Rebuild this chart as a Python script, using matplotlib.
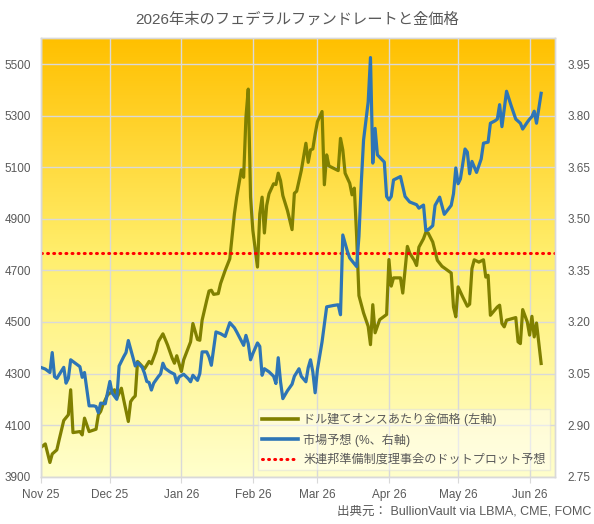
import numpy as np
import pandas as pd
import matplotlib
matplotlib.use("Agg")
import matplotlib.pyplot as plt
import matplotlib.dates as mdates
from matplotlib.colors import LinearSegmentedColormap
from matplotlib.lines import Line2D

plt.rcParams["font.family"] = ["Liberation Sans", "Noto Sans CJK JP"]

# gold price, USD per ounce (left axis)
gold_dates = [
    "2025-11-01", "2025-11-03", "2025-11-05", "2025-11-06", "2025-11-08", "2025-11-09",
    "2025-11-11", "2025-11-13", "2025-11-14", "2025-11-15", "2025-11-18", "2025-11-19",
    "2025-11-20", "2025-11-22", "2025-11-25", "2025-11-26", "2025-11-27", "2025-11-28",
    "2025-11-30", "2025-12-03", "2025-12-04", "2025-12-06", "2025-12-07", "2025-12-09",
    "2025-12-10", "2025-12-11", "2025-12-12", "2025-12-13", "2025-12-14", "2025-12-16",
    "2025-12-18", "2025-12-19", "2025-12-21", "2025-12-22", "2025-12-24", "2025-12-26",
    "2025-12-28", "2025-12-29", "2025-12-30", "2026-01-01", "2026-01-02", "2026-01-05",
    "2026-01-06", "2026-01-08", "2026-01-09", "2026-01-10", "2026-01-12", "2026-01-13",
    "2026-01-14", "2026-01-15", "2026-01-17", "2026-01-18", "2026-01-20", "2026-01-22",
    "2026-01-24", "2026-01-25", "2026-01-27", "2026-01-28", "2026-01-29", "2026-01-30",
    "2026-01-31", "2026-02-01", "2026-02-03", "2026-02-04", "2026-02-05", "2026-02-06",
    "2026-02-07", "2026-02-08", "2026-02-10", "2026-02-11", "2026-02-12", "2026-02-13",
    "2026-02-14", "2026-02-16", "2026-02-18", "2026-02-19", "2026-02-20", "2026-02-22",
    "2026-02-24", "2026-02-25", "2026-02-26", "2026-02-27", "2026-02-28", "2026-03-01",
    "2026-03-03", "2026-03-04", "2026-03-05", "2026-03-06", "2026-03-10", "2026-03-11",
    "2026-03-12", "2026-03-13", "2026-03-15", "2026-03-16", "2026-03-17", "2026-03-18",
    "2026-03-19", "2026-03-21", "2026-03-23", "2026-03-24", "2026-03-25", "2026-03-26",
    "2026-03-28", "2026-03-31", "2026-04-01", "2026-04-02", "2026-04-03", "2026-04-06",
    "2026-04-07", "2026-04-09", "2026-04-10", "2026-04-12", "2026-04-13", "2026-04-14",
    "2026-04-16", "2026-04-17", "2026-04-18", "2026-04-20", "2026-04-22", "2026-04-24",
    "2026-04-26", "2026-04-28", "2026-04-29", "2026-04-30", "2026-05-01", "2026-05-03",
    "2026-05-05", "2026-05-06", "2026-05-07", "2026-05-08", "2026-05-10", "2026-05-12",
    "2026-05-13", "2026-05-14", "2026-05-15", "2026-05-18", "2026-05-19", "2026-05-20",
    "2026-05-21", "2026-05-22", "2026-05-26", "2026-05-27", "2026-05-28", "2026-05-29",
    "2026-05-31", "2026-06-01", "2026-06-02", "2026-06-03", "2026-06-04", "2026-06-06",
]
gold_usd = [
    4013, 4027, 3955, 3988, 4004, 4043,
    4118, 4140, 4237, 4071, 4075, 4062,
    4127, 4075, 4084, 4140, 4153, 4179,
    4217, 4237, 4204, 4243, 4198, 4114,
    4191, 4204, 4213, 4347, 4338, 4318,
    4347, 4338, 4386, 4424, 4454, 4411,
    4360, 4340, 4369, 4308, 4353, 4423,
    4494, 4432, 4429, 4507, 4584, 4620,
    4623, 4607, 4610, 4649, 4700, 4745,
    4919, 4984, 5090, 5061, 5294, 5403,
    4984, 4855, 4713, 4919, 4984, 4845,
    4952, 4997, 5036, 5033, 5077, 5048,
    4990, 4932, 4858, 4999, 5007, 5087,
    5193, 5119, 5167, 5171, 5228, 5277,
    5316, 5032, 5148, 5105, 5087, 5212,
    5167, 5077, 5038, 4993, 5019, 4832,
    4602, 4535, 4483, 4412, 4567, 4458,
    4509, 4529, 4742, 4639, 4671, 4671,
    4612, 4793, 4767, 4739, 4719, 4790,
    4823, 4848, 4845, 4810, 4739, 4716,
    4703, 4690, 4558, 4520, 4636, 4597,
    4561, 4569, 4707, 4741, 4732, 4741,
    4674, 4681, 4526, 4558, 4565, 4494,
    4481, 4507, 4517, 4423, 4416, 4548,
    4500, 4449, 4522, 4442, 4496, 4339,
]

# market-implied fed funds rate at end of 2026, % (right axis)
rate_dates = [
    "2025-11-01", "2025-11-03", "2025-11-05", "2025-11-06", "2025-11-07", "2025-11-08",
    "2025-11-11", "2025-11-12", "2025-11-13", "2025-11-14", "2025-11-16", "2025-11-18",
    "2025-11-19", "2025-11-20", "2025-11-21", "2025-11-22", "2025-11-24", "2025-11-25",
    "2025-11-26", "2025-11-27", "2025-11-29", "2025-12-01", "2025-12-02", "2025-12-04",
    "2025-12-05", "2025-12-07", "2025-12-08", "2025-12-09", "2025-12-10", "2025-12-12",
    "2025-12-13", "2025-12-15", "2025-12-16", "2025-12-17", "2025-12-18", "2025-12-19",
    "2025-12-20", "2025-12-22", "2025-12-23", "2025-12-24", "2025-12-25", "2025-12-27",
    "2025-12-29", "2025-12-30", "2025-12-31", "2026-01-02", "2026-01-04", "2026-01-05",
    "2026-01-06", "2026-01-08", "2026-01-09", "2026-01-10", "2026-01-12", "2026-01-13",
    "2026-01-14", "2026-01-16", "2026-01-18", "2026-01-20", "2026-01-22", "2026-01-24",
    "2026-01-25", "2026-01-26", "2026-01-28", "2026-01-29", "2026-01-30", "2026-01-31",
    "2026-02-01", "2026-02-03", "2026-02-04", "2026-02-05", "2026-02-06", "2026-02-08",
    "2026-02-10", "2026-02-11", "2026-02-12", "2026-02-13", "2026-02-14", "2026-02-16",
    "2026-02-18", "2026-02-19", "2026-02-21", "2026-02-22", "2026-02-24", "2026-02-25",
    "2026-02-26", "2026-02-27", "2026-02-28", "2026-03-01", "2026-03-03", "2026-03-05",
    "2026-03-08", "2026-03-10", "2026-03-11", "2026-03-12", "2026-03-14", "2026-03-15",
    "2026-03-18", "2026-03-19", "2026-03-20", "2026-03-21", "2026-03-23", "2026-03-24",
    "2026-03-25", "2026-03-26", "2026-03-27", "2026-03-30", "2026-03-31", "2026-04-01",
    "2026-04-02", "2026-04-03", "2026-04-06", "2026-04-08", "2026-04-10", "2026-04-13",
    "2026-04-14", "2026-04-16", "2026-04-17", "2026-04-18", "2026-04-20", "2026-04-21",
    "2026-04-23", "2026-04-25", "2026-04-28", "2026-04-29", "2026-04-30", "2026-05-01",
    "2026-05-02", "2026-05-04", "2026-05-05", "2026-05-06", "2026-05-07", "2026-05-09",
    "2026-05-11", "2026-05-12", "2026-05-14", "2026-05-15", "2026-05-17", "2026-05-18",
    "2026-05-19", "2026-05-20", "2026-05-22", "2026-05-24", "2026-05-26", "2026-05-28",
    "2026-05-29", "2026-05-31", "2026-06-01", "2026-06-02", "2026-06-03", "2026-06-04",
    "2026-06-06",
]
rate_pct = [
    3.068, 3.063, 3.053, 3.111, 3.041, 3.036,
    3.068, 3.022, 3.036, 3.090, 3.080, 3.070,
    3.039, 3.053, 3.004, 2.956, 2.956, 2.954,
    2.936, 2.964, 2.962, 3.027, 2.993, 2.975,
    3.072, 3.099, 3.111, 3.146, 3.121, 3.072,
    3.082, 3.068, 3.051, 3.027, 3.024, 3.002,
    3.022, 3.041, 3.049, 3.080, 3.065, 3.055,
    3.048, 3.023, 3.040, 3.048, 3.035, 3.026,
    3.045, 3.030, 3.050, 3.113, 3.113, 3.098,
    3.074, 3.171, 3.166, 3.158, 3.198, 3.183,
    3.171, 3.158, 3.132, 3.161, 3.137, 3.090,
    3.108, 3.139, 3.129, 3.045, 3.064, 3.055,
    3.042, 3.021, 3.096, 3.026, 2.977, 3.000,
    3.019, 3.042, 3.064, 3.042, 3.026, 3.067,
    3.090, 3.055, 2.994, 3.062, 3.142, 3.244,
    3.248, 3.250, 3.221, 3.453, 3.405, 3.386,
    3.361, 3.449, 3.603, 3.729, 3.840, 3.969,
    3.662, 3.763, 3.686, 3.665, 3.565, 3.555,
    3.565, 3.613, 3.623, 3.565, 3.549, 3.541,
    3.531, 3.540, 3.466, 3.468, 3.480, 3.539,
    3.563, 3.513, 3.539, 3.573, 3.648, 3.602,
    3.616, 3.703, 3.694, 3.631, 3.667, 3.635,
    3.674, 3.720, 3.723, 3.778, 3.785, 3.790,
    3.832, 3.768, 3.871, 3.829, 3.790, 3.778,
    3.761, 3.781, 3.790, 3.797, 3.813, 3.778,
    3.865,
]

# FOMC dot plot median for end-2026
dot_plot_rate = 3.40

gold = pd.Series(gold_usd, index=pd.to_datetime(gold_dates))
rate = pd.Series(rate_pct, index=pd.to_datetime(rate_dates))

text_grey = "#595959"
grid_grey = "#D9D9D9"

fig = plt.figure(figsize=(5.94, 5.24), dpi=100)
ax = fig.add_axes([0.0685, 0.0903, 0.8658, 0.8366])
ax2 = ax.twinx()

# background gradient, orange at top to pale yellow at bottom
grad_cmap = LinearSegmentedColormap.from_list(
    "gold_bg", [(0.0, "#FFC000"), (0.5, "#FFEF6E"), (1.0, "#FFFFCC")]
)
ax.imshow(np.linspace(0, 1, 256).reshape(-1, 1), cmap=grad_cmap, aspect="auto",
          extent=[0, 1, 0, 1], transform=ax.transAxes, origin="upper", zorder=0)

ax.plot(gold.index, gold.values, color="#808000", lw=2.3, zorder=3,
        solid_joinstyle="round")
ax2.plot(rate.index, rate.values, color="#2E75B6", lw=2.3, zorder=3,
         solid_joinstyle="round")
ax2.axhline(dot_plot_rate, color="#FF0000", lw=2.2, linestyle=(0, (0.3, 1.7)),
            dash_capstyle="round", zorder=2)

ax.set_xlim(pd.Timestamp("2025-11-01"), pd.Timestamp("2026-06-12"))
ax.set_ylim(3900, 5600)
ax2.set_ylim(2.75, 4.025)

ax.set_yticks(np.arange(3900, 5501, 200))
ax2.set_yticks(np.arange(2.75, 3.96, 0.15))
ax2.yaxis.set_major_formatter(matplotlib.ticker.FormatStrFormatter("%.2f"))

ax.xaxis.set_major_locator(mdates.MonthLocator())
ax.xaxis.set_major_formatter(mdates.DateFormatter("%b %y"))

ax.grid(True, color=grid_grey, lw=1, zorder=1)
ax.set_axisbelow(True)

for a in (ax, ax2):
    for s in a.spines.values():
        s.set_color(grid_grey)
        s.set_linewidth(1)
    a.tick_params(colors=grid_grey, labelcolor=text_grey, labelsize=8.5, length=4)
ax.tick_params(axis="y", length=0, pad=7)
ax2.tick_params(axis="y", length=0, pad=9)
ax.tick_params(axis="x", pad=5)

fig.text(0.5, 0.962, "2026年末のフェデラルファンドレートと金価格", ha="center", va="center",
         fontsize=11, color=text_grey)
fig.text(0.995, 0.023, "出典元： BullionVault via LBMA, CME, FOMC", ha="right", va="center",
         fontsize=9, color=text_grey)

handles = [
    Line2D([], [], color="#808000", lw=2.6),
    Line2D([], [], color="#2E75B6", lw=2.6),
    Line2D([], [], color="#FF0000", lw=2.2, linestyle=(0, (0.3, 1.7)), dash_capstyle="round"),
]
labels = ["ドル建てオンスあたり金価格 (左軸)", "市場予想 (%、右軸)", "米連邦準備制度理事会のドットプロット予想"]
leg = ax2.legend(handles, labels, loc="lower right", bbox_to_anchor=(0.99, 0.015),
                 borderaxespad=0, fontsize=8.7, frameon=True, fancybox=False,
                 framealpha=0.45, facecolor="white", edgecolor=grid_grey,
                 handlelength=3.0, labelspacing=0.6, borderpad=0.35,
                 handletextpad=0.4, labelcolor=text_grey)
leg.get_frame().set_linewidth(1)

fig.savefig("out.png", dpi=100)
